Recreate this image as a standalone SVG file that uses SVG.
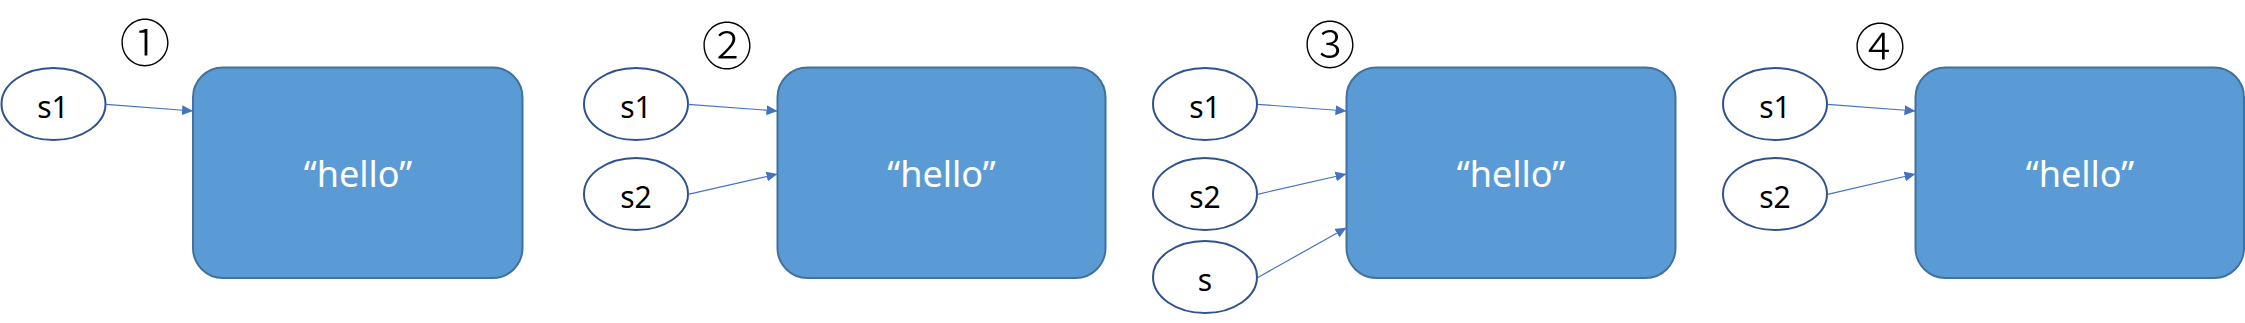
<svg xmlns="http://www.w3.org/2000/svg" width="2245" height="323" viewBox="0 0 2245 323">
<style>
.ell{fill:#ffffff;stroke:#2F528F;stroke-width:2}
.box{fill:#5B9BD5;stroke:#41719C;stroke-width:2}
.lbl{font-family:"Noto Sans","Open Sans",sans-serif;font-size:30px;fill:#000000;text-anchor:middle}
.val{font-family:"Noto Sans","Open Sans",sans-serif;font-size:36px;fill:#ffffff;text-anchor:middle}
.num{font-family:"Noto Sans CJK JP","Noto Sans CJK SC",sans-serif;font-size:51px;font-weight:300;fill:#000000;text-anchor:middle}
.con{stroke:#4472C4;stroke-width:1.2;fill:none;marker-end:url(#arr)}
</style>
<defs>
<marker id="arr" markerUnits="userSpaceOnUse" markerWidth="12" markerHeight="12" refX="11" refY="5" orient="auto">
<path d="M0,0 L11,5 L0,10 Z" fill="#4472C4"/>
</marker>
</defs>
<rect width="2245" height="323" fill="#ffffff"/>
<g id="panel1">
<text class="num" x="145" y="62">①</text>
<g id="p1-s1"><ellipse class="ell" cx="53.5" cy="104" rx="52" ry="36"/><text class="lbl" x="53" y="117.5">s1</text></g>
<g id="p1-hello"><rect class="box" x="193" y="67.5" width="329.5" height="210.5" rx="30" ry="30"/><text class="val" x="358" y="187">“hello”</text></g>
</g>
<g id="panel2">
<text class="num" x="727" y="65">②</text>
<g id="p2-s1"><ellipse class="ell" cx="636" cy="104" rx="52" ry="36"/><text class="lbl" x="636" y="117.5">s1</text></g>
<g id="p2-s2"><ellipse class="ell" cx="636" cy="194" rx="52" ry="36"/><text class="lbl" x="636" y="207.5">s2</text></g>
<g id="p2-hello"><rect class="box" x="777.5" y="67.5" width="328" height="210.5" rx="30" ry="30"/><text class="val" x="941.5" y="187">“hello”</text></g>
</g>
<g id="panel3">
<text class="num" x="1330" y="64">③</text>
<g id="p3-s1"><ellipse class="ell" cx="1205" cy="104" rx="52" ry="36"/><text class="lbl" x="1205" y="117.5">s1</text></g>
<g id="p3-s2"><ellipse class="ell" cx="1205" cy="194" rx="52" ry="36"/><text class="lbl" x="1205" y="207.5">s2</text></g>
<g id="p3-s"><ellipse class="ell" cx="1205" cy="277" rx="52" ry="36"/><text class="lbl" x="1205" y="290.5">s</text></g>
<g id="p3-hello"><rect class="box" x="1346.5" y="67.5" width="329" height="210.5" rx="30" ry="30"/><text class="val" x="1511" y="187">“hello”</text></g>
</g>
<g id="panel4">
<text class="num" x="1880" y="66">④</text>
<g id="p4-s1"><ellipse class="ell" cx="1775" cy="104" rx="52" ry="36"/><text class="lbl" x="1775" y="117.5">s1</text></g>
<g id="p4-s2"><ellipse class="ell" cx="1775" cy="194" rx="52" ry="36"/><text class="lbl" x="1775" y="207.5">s2</text></g>
<g id="p4-hello"><rect class="box" x="1915.5" y="67.5" width="328.5" height="210.5" rx="30" ry="30"/><text class="val" x="2080" y="187">“hello”</text></g>
</g>
<g id="connectors">
<line class="con" x1="106" y1="104.3" x2="193" y2="111"/>
<line class="con" x1="688" y1="104.3" x2="777.5" y2="111"/>
<line class="con" x1="688" y1="194.3" x2="777.5" y2="174"/>
<line class="con" x1="1257.5" y1="104.3" x2="1346.5" y2="111"/>
<line class="con" x1="1257.5" y1="194.3" x2="1346.5" y2="174"/>
<line class="con" x1="1257.5" y1="277.7" x2="1346.5" y2="227.7"/>
<line class="con" x1="1827.5" y1="104.3" x2="1915.5" y2="111"/>
<line class="con" x1="1827.5" y1="194.3" x2="1915.5" y2="174"/>
</g>
</svg>
